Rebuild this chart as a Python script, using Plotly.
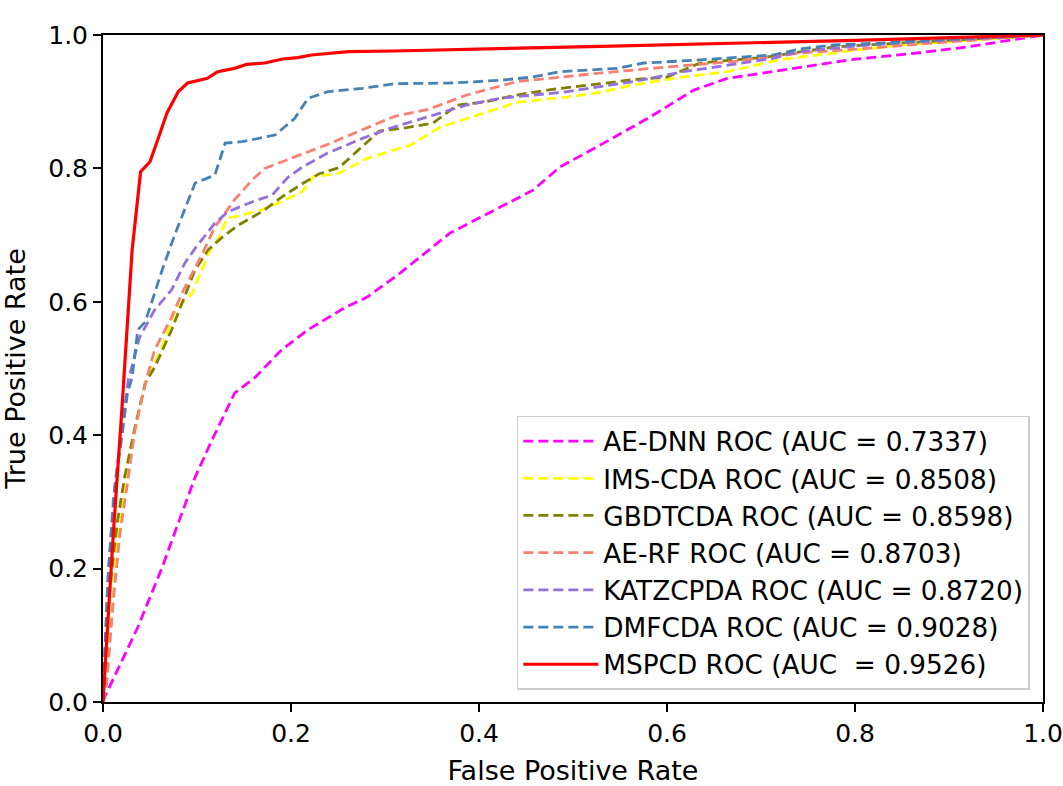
import plotly.graph_objects as go

names = ["AE-DNN ROC (AUC = 0.7337)", "IMS-CDA ROC (AUC = 0.8508)", "GBDTCDA ROC (AUC = 0.8598)",
         "AE-RF ROC (AUC = 0.8703)", "KATZCPDA ROC (AUC = 0.8720)", "DMFCDA ROC (AUC = 0.9028)",
         "MSPCD ROC (AUC  = 0.9526)"]
colors = ["#ff00ff", "#ffff00", "#808000", "#fa8072", "#9370db", "#4682b4", "#ff0000"]

aednn_fpr = [0, 0.002, 0.037, 0.063, 0.080, 0.098, 0.116, 0.140, 0.162, 0.190, 0.218, 0.257, 0.281, 0.316, 0.369, 0.422, 0.457, 0.486, 0.529, 0.582, 0.628, 0.664, 0.723, 0.795, 0.866, 0.919, 1.0]
aednn_tpr = [0, 0.008, 0.112, 0.202, 0.268, 0.337, 0.393, 0.463, 0.487, 0.528, 0.558, 0.591, 0.607, 0.643, 0.703, 0.742, 0.767, 0.802, 0.835, 0.877, 0.917, 0.935, 0.948, 0.963, 0.973, 0.982, 1.0]

ims_fpr = [0, 0.009, 0.016, 0.027, 0.037, 0.045, 0.063, 0.077, 0.095, 0.114, 0.122, 0.132, 0.148, 0.169, 0.190, 0.212, 0.224, 0.250, 0.281, 0.327, 0.359, 0.404, 0.440, 0.494, 0.529, 0.564, 0.617, 0.664, 0.720, 0.777, 0.848, 0.919, 1.0]
ims_tpr = [0, 0.127, 0.253, 0.363, 0.427, 0.478, 0.533, 0.588, 0.613, 0.678, 0.693, 0.725, 0.730, 0.738, 0.750, 0.765, 0.788, 0.792, 0.815, 0.835, 0.862, 0.883, 0.899, 0.907, 0.914, 0.925, 0.937, 0.945, 0.963, 0.973, 0.985, 0.992, 1.0]

gbdt_fpr = [0, 0.006, 0.015, 0.023, 0.034, 0.045, 0.055, 0.073, 0.098, 0.112, 0.127, 0.144, 0.169, 0.190, 0.212, 0.230, 0.251, 0.272, 0.294, 0.323, 0.351, 0.377, 0.404, 0.440, 0.476, 0.529, 0.564, 0.600, 0.635, 0.706, 0.777, 0.848, 1.0]
gbdt_tpr = [0, 0.153, 0.268, 0.337, 0.412, 0.478, 0.502, 0.558, 0.648, 0.678, 0.697, 0.715, 0.735, 0.757, 0.777, 0.792, 0.801, 0.828, 0.856, 0.861, 0.868, 0.895, 0.899, 0.910, 0.918, 0.927, 0.933, 0.937, 0.958, 0.967, 0.982, 0.988, 1.0]

aerf_fpr = [0, 0.004, 0.011, 0.018, 0.026, 0.034, 0.045, 0.055, 0.073, 0.084, 0.105, 0.119, 0.140, 0.159, 0.172, 0.204, 0.239, 0.276, 0.310, 0.345, 0.387, 0.440, 0.486, 0.529, 0.600, 0.670, 0.741, 0.813, 0.883, 1.0]
aerf_tpr = [0, 0.028, 0.153, 0.253, 0.328, 0.408, 0.478, 0.528, 0.577, 0.613, 0.670, 0.712, 0.753, 0.783, 0.800, 0.817, 0.836, 0.858, 0.878, 0.888, 0.910, 0.930, 0.937, 0.943, 0.952, 0.960, 0.973, 0.980, 0.988, 1.0]

katz_fpr = [0, 0.002, 0.005, 0.011, 0.020, 0.027, 0.039, 0.055, 0.073, 0.087, 0.098, 0.119, 0.133, 0.159, 0.180, 0.197, 0.212, 0.239, 0.276, 0.307, 0.351, 0.387, 0.422, 0.494, 0.564, 0.617, 0.642, 0.713, 0.741, 0.813, 0.883, 1.0]
katz_tpr = [0, 0.078, 0.178, 0.303, 0.412, 0.483, 0.547, 0.588, 0.618, 0.658, 0.680, 0.718, 0.735, 0.750, 0.760, 0.787, 0.802, 0.823, 0.845, 0.861, 0.880, 0.895, 0.905, 0.915, 0.930, 0.945, 0.950, 0.965, 0.975, 0.985, 0.991, 1.0]

dmf_fpr = [0, 0.002, 0.006, 0.013, 0.020, 0.026, 0.031, 0.037, 0.045, 0.063, 0.077, 0.098, 0.119, 0.130, 0.148, 0.183, 0.204, 0.218, 0.239, 0.276, 0.310, 0.369, 0.422, 0.457, 0.486, 0.547, 0.575, 0.628, 0.713, 0.741, 0.777, 0.830, 0.883, 1.0]
dmf_tpr = [0, 0.078, 0.202, 0.328, 0.397, 0.463, 0.487, 0.558, 0.570, 0.648, 0.703, 0.778, 0.790, 0.838, 0.840, 0.850, 0.875, 0.905, 0.915, 0.920, 0.927, 0.928, 0.932, 0.937, 0.945, 0.950, 0.958, 0.962, 0.970, 0.979, 0.985, 0.988, 0.993, 1.0]

mspcd_fpr = [0, 0.011, 0.020, 0.031, 0.040, 0.050, 0.060, 0.068, 0.080, 0.090, 0.111, 0.122, 0.140, 0.153, 0.172, 0.191, 0.207, 0.222, 0.261, 0.310, 0.530, 0.800, 1.0]
mspcd_tpr = [0, 0.253, 0.437, 0.678, 0.795, 0.810, 0.850, 0.883, 0.915, 0.928, 0.935, 0.945, 0.950, 0.956, 0.958, 0.964, 0.966, 0.970, 0.975, 0.976, 0.983, 0.992, 1.0]

series = [(aednn_fpr, aednn_tpr), (ims_fpr, ims_tpr), (gbdt_fpr, gbdt_tpr), (aerf_fpr, aerf_tpr),
          (katz_fpr, katz_tpr), (dmf_fpr, dmf_tpr), (mspcd_fpr, mspcd_tpr)]

tick_vals = [0.0, 0.2, 0.4, 0.6, 0.8, 1.0]
tick_text = ["0.0", "0.2", "0.4", "0.6", "0.8", "1.0"]

fig = go.Figure()
for i, ((fx, ty), name, col) in enumerate(zip(series, names, colors)):
    solid = (i == len(names) - 1)
    fig.add_trace(go.Scatter(
        x=fx, y=ty, mode="lines", name=name,
        line=dict(color=col, width=3.2 if solid else 2.8, dash="solid" if solid else "10px,5px"),
    ))

axis_common = dict(
    range=[0, 1], tickvals=tick_vals, ticktext=tick_text,
    showgrid=False, zeroline=False, showline=True, linecolor="black", linewidth=2,
    mirror=True, ticks="outside", ticklen=8, tickwidth=2, tickcolor="black",
    tickfont=dict(family="DejaVu Sans", size=25, color="black"),
    automargin=False, ticklabeloverflow="allow",
)

fig.update_layout(
    width=1063, height=786,
    margin=dict(l=103, r=20, t=35, b=84),
    paper_bgcolor="white", plot_bgcolor="white",
    font=dict(family="DejaVu Sans", color="black"),
    xaxis=dict(**axis_common, title=dict(text="False Positive Rate", font=dict(size=27), standoff=32)),
    yaxis=dict(**axis_common, title=dict(text="True Positive Rate", font=dict(size=27), standoff=19)),
    legend=dict(
        x=0.986, y=0.018, xanchor="right", yanchor="bottom",
        bgcolor="white", bordercolor="#cccccc", borderwidth=1.5,
        font=dict(family="DejaVu Sans", size=26.3, color="black"),
        tracegroupgap=0, itemwidth=75,
    ),
    showlegend=True,
)

fig.write_html("out.html", config={"responsive": False, "displayModeBar": False},
               post_script="document.body.style.margin='0';document.body.style.overflow='hidden';")
